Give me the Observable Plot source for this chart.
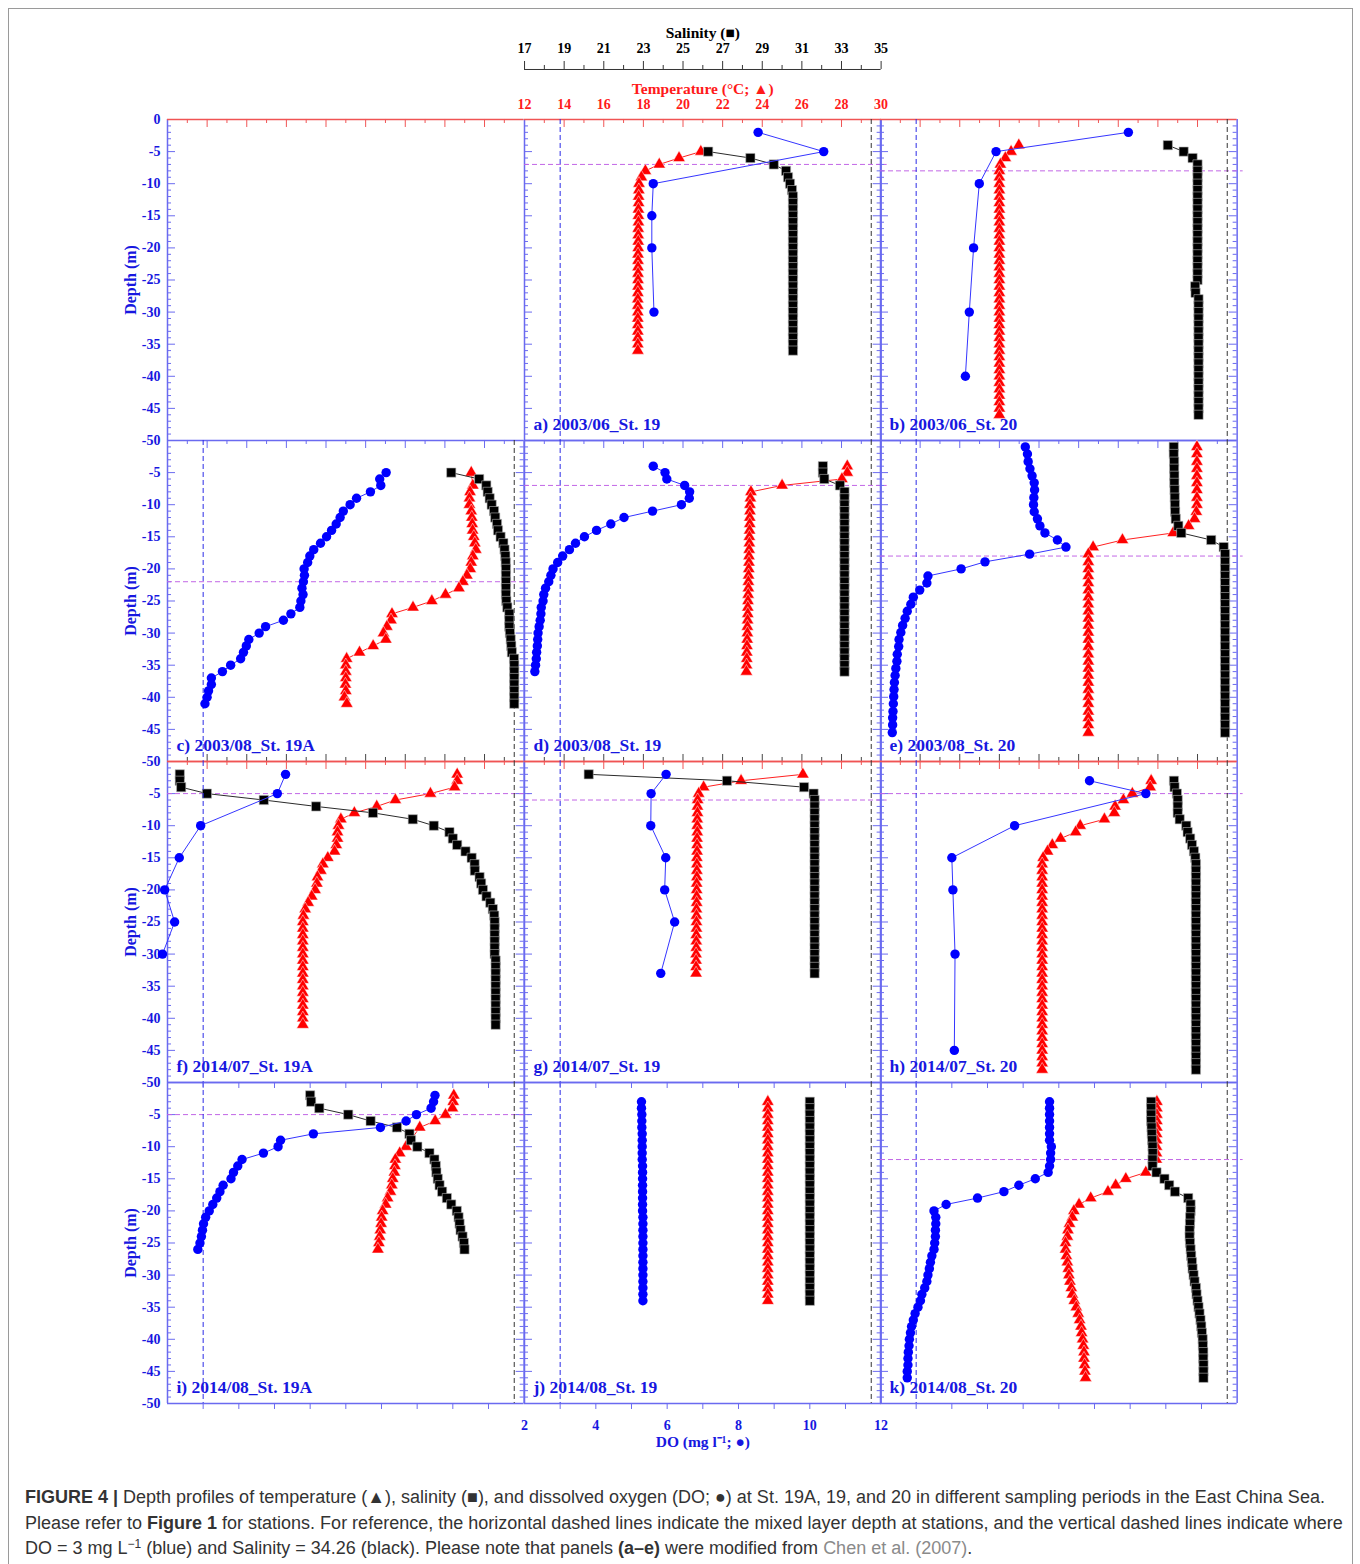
<!DOCTYPE html>
<html>
<head>
<meta charset="utf-8">
<script src="https://cdn.jsdelivr.net/npm/d3@7"></script>
<script src="https://cdn.jsdelivr.net/npm/@observablehq/plot@0.6"></script>
<style>
  html, body { margin: 0; padding: 0; background: #fff; }
  #fig { position: relative; width: 1360px; height: 1564px; overflow: hidden; }
  #frame { position: absolute; left: 8px; top: 8px; width: 1343px; height: 1570px; border: 1px solid #9a9a9a; }
  #caption { position: absolute; left: 25px; top: 1485px; font-family: "Liberation Sans", Arial, sans-serif; font-size: 18px; line-height: 25.7px; color: #333; white-space: nowrap; }
  #caption .ref { color: #8a8a8a; }
  #caption sup { font-size: 12px; line-height: 0; vertical-align: 6px; }
</style>
</head>
<body>
<div id="fig"><div id="frame"></div></div>
<script>
// ================= DATA =================
const panelNames = ["a) 2003/06_St. 19", "b) 2003/06_St. 20", "c) 2003/08_St. 19A", "d) 2003/08_St. 19", "e) 2003/08_St. 20",
  "f) 2014/07_St. 19A", "g) 2014/07_St. 19", "h) 2014/07_St. 20", "i) 2014/08_St. 19A", "j) 2014/08_St. 19", "k) 2014/08_St. 20"];
// mixed layer depth (m) per panel, null = none
const mixedLayerDepths = [-7, -8, -22, -7, -18, -5, -6, -5, -5, null, -12];

// reference lines
const doRefLine = 3;          // DO = 3 mg/L
const salinityRefLine = 34.5; // salinity reference (as drawn)

// tick labels
const depthTicks = [0, -5, -10, -15, -20, -25, -30, -35, -40, -45, -50];
const salinityTicks = [17, 19, 21, 23, 25, 27, 29, 31, 33, 35];
const temperatureTicks = [12, 14, 16, 18, 20, 22, 24, 26, 28, 30];
const doTicks = [2, 4, 6, 8, 10, 12];

// series: [depth (m), value]
const tempA = [[5,20.9],[6,19.8],[7,18.8],[8,18.1],[9,17.9],[10,17.78],[11,17.77],[12,17.76],[13,17.76],[14,17.75],[15,17.75],[16,17.75],[17,17.74],[18,17.74],[19,17.74],[20,17.74],[21,17.73],[22,17.73],[23,17.73],[24,17.73],[25,17.73],[26,17.73],[27,17.72],[28,17.72],[29,17.72],[30,17.72],[31,17.72],[32,17.72],[33,17.72],[34,17.72],[35,17.72],[36,17.72]];
const salA = [[5,26.27],[6,28.4],[7,29.58],[8,30.2],[9,30.3],[10,30.4],[11,30.5],[12,30.55],[13,30.55],[14,30.55],[15,30.55],[16,30.55],[17,30.55],[18,30.55],[19,30.55],[20,30.55],[21,30.55],[22,30.55],[23,30.55],[24,30.55],[25,30.55],[26,30.55],[27,30.55],[28,30.55],[29,30.55],[30,30.55],[31,30.55],[32,30.55],[33,30.55],[34,30.55],[35,30.55],[36,30.55]];
const doA = [[2,8.55],[5,10.39],[10,5.61],[15,5.57],[20,5.57],[30,5.63]];

const tempB = [[4,18.98],[5,18.59],[6,18.3],[7,18.05],[8,18],[9,18],[10,18],[11,18],[12,18],[13,18],[14,18],[15,18],[16,18],[17,18],[18,18],[19,18],[20,18],[21,18],[22,18],[23,18],[24,18],[25,18],[26,18],[27,18],[28,18],[29,18],[30,18],[31,18],[32,18],[33,18],[34,18],[35,18],[36,18],[37,18],[38,18],[39,18],[40,18],[41,18],[42,18],[43,18],[44,18],[45,18],[46,18]];
const salB = [[4,31.5],[5,32.3],[6,32.75],[7,33.0],[8,33.0],[9,33.0],[10,33.0],[11,33.0],[12,33.0],[13,33.0],[14,33.0],[15,33.0],[16,33.0],[17,33.0],[18,33.0],[19,33.0],[20,33.0],[21,33.0],[22,33.0],[23,33.0],[24,33.0],[25,33.0],[26,32.88],[27,32.9],[28,33.05],[29,33.05],[30,33.05],[31,33.05],[32,33.05],[33,33.05],[34,33.05],[35,33.05],[36,33.05],[37,33.05],[38,33.05],[39,33.05],[40,33.05],[41,33.05],[42,33.05],[43,33.05],[44,33.05],[45,33.05],[46,33.05]];
const doB = [[2,8.95],[5,5.24],[10,4.77],[20,4.61],[30,4.49],[40,4.38]];

const tempC = [[5,27.33],[7,27.41],[8,27.27],[9,27.24],[10,27.24],[11,27.33],[12,27.36],[13,27.38],[14,27.4],[15,27.46],[16,27.51],[17,27.56],[18,27.41],[19,27.33],[20,27.28],[21,27.11],[22,26.91],[23,26.71],[24,26.03],[25,25.34],[26,24.39],[27,23.33],[28,23.28],[29,23.07],[30,22.9],[31,23.02],[32,22.38],[33,21.69],[34,21.04],[35,21.0],[36,21.0],[37,21.0],[38,20.98],[39,21.0],[40,20.93],[41,21.05]];
const salC = [[5,31.32],[6,32.73],[7,33.09],[8,33.16],[9,33.26],[10,33.36],[11,33.48],[12,33.54],[13,33.63],[14,33.68],[15,33.81],[16,33.95],[17,34.01],[18,34.05],[19,34.07],[20,34.08],[21,34.08],[22,34.08],[23,34.08],[24,34.08],[25,34.1],[26,34.15],[27,34.25],[28,34.25],[29,34.25],[30,34.28],[31,34.32],[32,34.35],[33,34.38],[34,34.49],[35,34.5],[36,34.5],[37,34.5],[38,34.5],[39,34.5],[40,34.5],[41,34.5]];
const doC = [[5,8.13],[6,7.95],[7,7.98],[8,7.69],[9,7.3],[10,7.12],[11,6.93],[12,6.84],[13,6.73],[14,6.6],[15,6.46],[16,6.29],[17,6.1],[18,5.99],[19,5.93],[20,5.83],[21,5.84],[22,5.81],[23,5.77],[24,5.8],[25,5.74],[26,5.71],[27,5.46],[28,5.25],[29,4.75],[30,4.57],[31,4.28],[32,4.21],[33,4.13],[34,4.05],[35,3.77],[36,3.54],[37,3.23],[38,3.23],[39,3.15],[40,3.11],[41,3.05]];

const tempD = [[4,28.29],[5,28.29],[6,28.02],[7,25.0],[8,23.43],[9,23.4],[10,23.38],[11,23.38],[12,23.37],[13,23.37],[14,23.36],[15,23.35],[16,23.35],[17,23.34],[18,23.33],[19,23.33],[20,23.32],[21,23.31],[22,23.3],[23,23.3],[24,23.29],[25,23.28],[26,23.27],[27,23.27],[28,23.26],[29,23.25],[30,23.25],[31,23.24],[32,23.23],[33,23.22],[34,23.22],[35,23.21],[36,23.2]];
const salD = [[4,32.06],[5,32.06],[6,32.13],[7,32.92],[8,33.15],[9,33.15],[10,33.15],[11,33.15],[12,33.15],[13,33.15],[14,33.15],[15,33.15],[16,33.15],[17,33.15],[18,33.15],[19,33.15],[20,33.15],[21,33.15],[22,33.15],[23,33.15],[24,33.15],[25,33.15],[26,33.15],[27,33.15],[28,33.15],[29,33.15],[30,33.15],[31,33.15],[32,33.15],[33,33.15],[34,33.15],[35,33.15],[36,33.15]];
const doD = [[4,5.61],[5,5.94],[6,5.99],[7,6.49],[8,6.63],[9,6.62],[10,6.4],[11,5.59],[12,4.79],[13,4.42],[14,4.02],[15,3.68],[16,3.43],[17,3.26],[18,3.07],[19,2.93],[20,2.8],[21,2.74],[22,2.68],[23,2.59],[24,2.54],[25,2.52],[26,2.47],[27,2.46],[28,2.44],[29,2.41],[30,2.38],[31,2.37],[32,2.36],[33,2.34],[34,2.33],[35,2.31],[36,2.29]];

// panel e: shared sampling depths
const depthE = [1.0,2.1,3.3,4.4,5.5,6.6,7.7,8.9,10.0,11.1,12.2,13.3,14.4,15.5,16.6,17.7,18.9,20.0,21.1,22.2,23.3,24.4,25.5,26.6,27.7,28.8,29.9,31.0,32.1,33.3,34.4,35.5,36.6,37.7,38.8,39.9,41.0,42.2,43.2,44.3,45.5];
const tempE = [27.97,27.97,27.97,27.97,27.97,27.97,27.97,27.97,27.97,27.94,27.85,27.55,26.77,24.21,22.73,22.49,22.49,22.49,22.49,22.49,22.49,22.49,22.49,22.49,22.49,22.49,22.49,22.49,22.49,22.49,22.49,22.49,22.49,22.49,22.49,22.49,22.49,22.49,22.49,22.49,22.49];
const salE = [31.8,31.8,31.82,31.82,31.83,31.83,31.84,31.85,31.86,31.87,31.9,32.03,32.18,33.69,34.32,34.39,34.39,34.39,34.39,34.39,34.39,34.39,34.39,34.39,34.39,34.39,34.39,34.39,34.39,34.39,34.39,34.39,34.39,34.39,34.39,34.39,34.39,34.39,34.39,34.39,34.39];
const doE = [6.06,6.12,6.14,6.19,6.25,6.31,6.32,6.3,6.29,6.31,6.4,6.47,6.61,6.96,7.2,6.18,4.93,4.26,3.33,3.3,3.1,2.92,2.85,2.75,2.69,2.62,2.57,2.52,2.51,2.47,2.46,2.43,2.41,2.39,2.38,2.37,2.36,2.35,2.34,2.34,2.33];

const tempF = [[2,26.62],[3,26.62],[4,26.49],[5,25.27],[6,23.5],[7,22.56],[8,21.43],[9,20.75],[10,20.63],[11,20.58],[12,20.58],[13,20.52],[14,20.43],[15,20.09],[16,19.84],[17,19.74],[18,19.57],[19,19.54],[20,19.45],[21,19.28],[22,19.1],[23,18.95],[24,18.86],[25,18.83],[26,18.83],[27,18.83],[28,18.83],[29,18.83],[30,18.83],[31,18.83],[32,18.83],[33,18.83],[34,18.83],[35,18.83],[36,18.83],[37,18.83],[38,18.83],[39,18.83],[40,18.83],[41,18.83]];
const salF = [[2,17.62],[3,17.62],[4,17.69],[5,18.99],[6,21.86],[7,24.5],[8,27.37],[9,29.38],[10,30.44],[11,31.23],[12,31.4],[13,31.62],[14,32.04],[15,32.35],[16,32.5],[17,32.51],[18,32.75],[19,32.83],[20,32.92],[21,33.1],[22,33.29],[23,33.42],[24,33.49],[25,33.51],[26,33.51],[27,33.51],[28,33.51],[29,33.51],[30,33.51],[31,33.56],[32,33.56],[33,33.56],[34,33.56],[35,33.56],[36,33.56],[37,33.56],[38,33.56],[39,33.56],[40,33.56],[41,33.56]];
const doF = [[2,5.31],[5,5.08],[10,2.93],[15,2.33],[20,1.92],[25,2.2],[30,1.86]];

const tempG = [[2,26.05],[3,22.93],[4,21.04],[5,20.79],[6,20.74],[7,20.73],[8,20.73],[9,20.72],[10,20.72],[11,20.72],[12,20.71],[13,20.71],[14,20.71],[15,20.7],[16,20.7],[17,20.7],[18,20.7],[19,20.69],[20,20.69],[21,20.69],[22,20.69],[23,20.68],[24,20.68],[25,20.68],[26,20.68],[27,20.67],[28,20.67],[29,20.67],[30,20.66],[31,20.66],[32,20.66],[33,20.66]];
const salG = [[2,20.24],[3,27.22],[4,31.11],[5,31.59],[6,31.64],[7,31.64],[8,31.64],[9,31.64],[10,31.64],[11,31.64],[12,31.64],[13,31.64],[14,31.64],[15,31.64],[16,31.64],[17,31.64],[18,31.64],[19,31.64],[20,31.64],[21,31.64],[22,31.64],[23,31.64],[24,31.64],[25,31.64],[26,31.64],[27,31.64],[28,31.64],[29,31.64],[30,31.64],[31,31.64],[32,31.64],[33,31.64]];
const doG = [[2,5.97],[5,5.55],[10,5.54],[15,5.96],[20,5.93],[25,6.21],[33,5.82]];

const tempH = [[3,25.66],[4,25.61],[5,24.71],[6,24.26],[7,23.84],[8,23.8],[9,23.3],[10,22.08],[11,21.85],[12,21.09],[13,20.67],[14,20.43],[15,20.21],[16,20.16],[17,20.16],[18,20.16],[19,20.16],[20,20.16],[21,20.16],[22,20.16],[23,20.16],[24,20.16],[25,20.16],[26,20.16],[27,20.16],[28,20.16],[29,20.16],[30,20.16],[31,20.16],[32,20.16],[33,20.16],[34,20.16],[35,20.16],[36,20.16],[37,20.16],[38,20.16],[39,20.16],[40,20.16],[41,20.16],[42,20.16],[43,20.16],[44,20.16],[45,20.16],[46,20.16],[47,20.16],[48,20.16]];
const salH = [[3,31.81],[4,31.84],[5,31.96],[6,32.0],[7,32.0],[8,32.0],[9,32.1],[10,32.43],[11,32.5],[12,32.63],[13,32.72],[14,32.82],[15,32.89],[16,32.92],[17,32.92],[18,32.92],[19,32.92],[20,32.92],[21,32.92],[22,32.92],[23,32.92],[24,32.92],[25,32.92],[26,32.92],[27,32.92],[28,32.92],[29,32.92],[30,32.92],[31,32.92],[32,32.92],[33,32.92],[34,32.92],[35,32.92],[36,32.92],[37,32.92],[38,32.92],[39,32.92],[40,32.92],[41,32.92],[42,32.92],[43,32.92],[44,32.92],[45,32.92],[46,32.92],[47,32.92],[48,32.92]];
const doH = [[3,7.86],[5,9.44],[10,5.76],[15,4.0],[20,4.03],[30,4.09],[45,4.07]];

const tempI = [[2,26.45],[3,26.42],[4,26.38],[5,26.03],[6,25.51],[7,24.73],[10,24.04],[11,23.72],[12,23.5],[13,23.48],[14,23.45],[15,23.37],[16,23.32],[17,23.25],[18,23.11],[19,23.01],[20,22.86],[21,22.81],[22,22.78],[23,22.74],[24,22.71],[25,22.67],[26,22.62]];
const salI = [[2,24.2],[3,24.25],[4,24.66],[5,26.12],[6,27.25],[7,28.58],[8,29.21],[9,29.29],[10,29.61],[11,30.22],[12,30.47],[13,30.54],[14,30.57],[15,30.64],[16,30.73],[17,30.86],[18,31.1],[19,31.32],[20,31.6],[21,31.69],[22,31.74],[23,31.79],[24,31.89],[25,31.96],[26,31.99]];
const doI = [[2,9.5],[3,9.46],[4,9.39],[5,8.98],[6,8.69],[7,7.97],[8,6.09],[9,5.17],[10,5.1],[11,4.69],[12,4.09],[13,3.97],[14,3.85],[15,3.78],[16,3.56],[17,3.47],[18,3.38],[19,3.27],[20,3.17],[21,3.07],[22,3.01],[23,2.98],[24,2.95],[25,2.91],[26,2.85]];

const tempJ = [[3,24.28],[4,24.28],[5,24.28],[6,24.28],[7,24.28],[8,24.28],[9,24.28],[10,24.28],[11,24.28],[12,24.28],[13,24.28],[14,24.28],[15,24.28],[16,24.28],[17,24.28],[18,24.28],[19,24.28],[20,24.28],[21,24.28],[22,24.28],[23,24.28],[24,24.28],[25,24.28],[26,24.28],[27,24.28],[28,24.28],[29,24.28],[30,24.28],[31,24.28],[32,24.28],[33,24.28],[34,24.28]];
const salJ = [[3,31.4],[4,31.4],[5,31.4],[6,31.4],[7,31.4],[8,31.4],[9,31.4],[10,31.4],[11,31.4],[12,31.4],[13,31.4],[14,31.4],[15,31.4],[16,31.4],[17,31.4],[18,31.4],[19,31.4],[20,31.4],[21,31.4],[22,31.4],[23,31.4],[24,31.4],[25,31.4],[26,31.4],[27,31.4],[28,31.4],[29,31.4],[30,31.4],[31,31.4],[32,31.4],[33,31.4],[34,31.4]];
const doJ = [[3,5.28],[4,5.28],[5,5.29],[6,5.29],[7,5.29],[8,5.3],[9,5.3],[10,5.3],[11,5.3],[12,5.3],[13,5.31],[14,5.31],[15,5.31],[16,5.31],[17,5.31],[18,5.31],[19,5.31],[20,5.31],[21,5.32],[22,5.32],[23,5.32],[24,5.32],[25,5.32],[26,5.32],[27,5.32],[28,5.32],[29,5.32],[30,5.32],[31,5.32],[32,5.32],[33,5.32],[34,5.32]];

const tempK = [[3,25.95],[4,25.95],[5,25.95],[6,25.95],[7,25.95],[8,25.94],[9,25.94],[10,25.93],[11,25.93],[12,25.92],[14,25.39],[15,24.38],[16,23.87],[17,23.48],[18,22.61],[19,22.02],[20,21.76],[21,21.68],[22,21.54],[23,21.46],[24,21.43],[25,21.34],[26,21.34],[27,21.38],[28,21.43],[29,21.48],[30,21.51],[31,21.56],[32,21.63],[33,21.68],[34,21.78],[35,21.88],[36,21.98],[37,22.05],[38,22.12],[39,22.15],[40,22.2],[41,22.24],[42,22.27],[43,22.27],[44,22.3],[45,22.32],[46,22.35]];
const salK = [[3,30.66],[4,30.66],[5,30.66],[6,30.66],[7,30.68],[8,30.69],[9,30.71],[10,30.73],[11,30.74],[12,30.73],[13,30.73],[14,30.93],[15,31.33],[16,31.57],[17,31.86],[18,32.53],[19,32.65],[20,32.65],[21,32.63],[22,32.62],[23,32.6],[24,32.6],[25,32.62],[26,32.65],[27,32.68],[28,32.72],[29,32.75],[30,32.8],[31,32.85],[32,32.92],[33,32.95],[34,33.0],[35,33.05],[36,33.1],[37,33.15],[38,33.19],[39,33.22],[40,33.26],[41,33.27],[42,33.29],[43,33.29],[44,33.3],[45,33.3],[46,33.3]];
const doK = [[3,6.74],[4,6.74],[5,6.74],[6,6.74],[7,6.74],[8,6.74],[9,6.74],[10,6.79],[11,6.77],[12,6.77],[13,6.74],[14,6.7],[15,6.34],[16,5.88],[17,5.46],[18,4.72],[19,3.84],[20,3.5],[21,3.55],[22,3.55],[23,3.54],[24,3.54],[25,3.52],[26,3.5],[27,3.44],[28,3.4],[29,3.37],[30,3.33],[31,3.3],[32,3.24],[33,3.16],[34,3.12],[35,3.05],[36,2.97],[37,2.92],[38,2.87],[39,2.84],[40,2.81],[41,2.8],[42,2.78],[43,2.77],[44,2.77],[45,2.75],[46,2.75]];

// ================= BUILD =================
const zipE = vals => depthE.map((d, i) => [d, vals[i]]);
const tempSeries = [tempA, tempB, tempC, tempD, zipE(tempE), tempF, tempG, tempH, tempI, tempJ, tempK];
const salSeries  = [salA, salB, salC, salD, zipE(salE), salF, salG, salH, salI, salJ, salK];
const doSeries   = [doA, doB, doC, doD, zipE(doE), doF, doG, doH, doI, doJ, doK];

// layout
const slots = [[0,1],[0,2],[1,0],[1,1],[1,2],[2,0],[2,1],[2,2],[3,0],[3,1],[3,2]];
const X0 = 167, Y0 = 119;
const PW = (1237 - 167) / 3, PH = (1403 - 119) / 4, M = 16;
const tempDom = [12, 30], salDom = [17, 35], doDom = [2, 12], depthDom = [-50, 0];

const COL = {
  text: "#1717e0", border: "#6a6af0", blue: "#0000ff", blueLine: "#3434ff",
  red: "#ff0000", redLine: "#ff2020", redBorder: "#f05454",
  black: "#000000", blackLine: "#2a2a2a", purple: "#c266e6",
  dashBlue: "#2a2ae6", dashBlack: "#333333"
};
const SERIF = "Liberation Serif, Times New Roman, serif";
const rowTopColor = [COL.redBorder, COL.border, COL.redBorder, COL.border];
const rowBottomColor = [COL.border, COL.redBorder, COL.border, COL.border];
const rowTopTick = [COL.redBorder, COL.border, COL.redBorder, null];

const depthMajor = depthTicks.filter(d => d !== 0 && d !== -50);
const depthMinor = d3.range(-49, 0).filter(d => d % 5 !== 0);
const tempTickMajor = d3.range(14, 30, 2);
const tempTickMinor = d3.range(13, 30, 2);
const doTickInner = d3.range(3, 12);

const fig = document.getElementById("fig");
function place(svg, left, top) {
  svg.style.position = "absolute";
  svg.style.left = left + "px";
  svg.style.top = top + "px";
  fig.appendChild(svg);
}
function layer(xDomain, marks) {
  return Plot.plot({
    width: PW + 2 * M, height: PH + 2 * M,
    marginLeft: M, marginRight: M, marginTop: M, marginBottom: M,
    x: {domain: xDomain, axis: null},
    y: {domain: depthDom, axis: null},
    style: {background: "transparent", overflow: "visible", fontFamily: SERIF},
    marks
  });
}
const X = d => d[1], Y = d => -d[0];

function baseMarks(r, c, i) {
  const has = i != null;
  const m = [];
  // left ticks (pointing right)
  m.push(Plot.tickY(depthMinor, {y: d => d, stroke: COL.border, insetRight: PW - 4}));
  m.push(Plot.tickY(depthMajor, {y: d => d, stroke: COL.border, insetRight: PW - 8}));
  if (has) {
    m.push(Plot.tickY(depthMinor, {y: d => d, stroke: COL.border, insetLeft: PW - 4}));
    m.push(Plot.tickY(depthMajor, {y: d => d, stroke: COL.border, insetLeft: PW - 8}));
  }
  // top ticks (temperature spacing)
  if (rowTopTick[r]) {
    m.push(Plot.tickX(tempTickMinor, {x: d => d, stroke: rowTopTick[r], insetBottom: PH - 4}));
    m.push(Plot.tickX(tempTickMajor, {x: d => d, stroke: rowTopTick[r], insetBottom: PH - 8}));
  }
  if (has && r === 1) {
    m.push(Plot.tickX(tempTickMinor, {x: d => d, stroke: "#444", insetTop: PH - 4}));
    m.push(Plot.tickX(tempTickMajor, {x: d => d, stroke: "#444", insetTop: PH - 7}));
  }
  // borders
  m.push(Plot.ruleX([tempDom[0]], {stroke: COL.border, strokeWidth: 1.5}));
  if (has) m.push(Plot.ruleX([tempDom[1]], {stroke: COL.border, strokeWidth: 1.5}));
  m.push(Plot.ruleY([depthDom[1]], {stroke: rowTopColor[r], strokeWidth: 1.5}));
  if (has) m.push(Plot.ruleY([depthDom[0]], {stroke: rowBottomColor[r], strokeWidth: 1.5}));
  // depth axis labels on first column
  if (c === 0) {
    const labels = r === 0 ? depthTicks : depthTicks.filter(d => d !== 0);
    m.push(Plot.text(labels, {y: d => d, text: d => String(d), frameAnchor: "left", dx: -7, textAnchor: "end",
      lineAnchor: "middle", fill: COL.text, fontSize: 14, fontWeight: "bold"}));
    m.push(Plot.text(["Depth (m)"], {frameAnchor: "left", dx: -37, rotate: -90, textAnchor: "middle", lineAnchor: "middle",
      fill: COL.text, fontSize: 16, fontWeight: "bold"}));
  }
  if (has) {
    if (mixedLayerDepths[i] != null) {
      m.push(Plot.ruleY([mixedLayerDepths[i]], {stroke: COL.purple, strokeDasharray: "5,3", strokeWidth: 1, insetRight: -6}));
    }
    m.push(Plot.line(tempSeries[i], {x: X, y: Y, stroke: COL.redLine, strokeWidth: 1}));
    m.push(Plot.dot(tempSeries[i], {x: X, y: Y, symbol: "triangle", r: 4.6, fill: COL.red, stroke: "#ffffff", strokeWidth: 0.5}));
    m.push(Plot.text([panelNames[i]], {frameAnchor: "bottom-left", dx: 9, dy: -10, lineAnchor: "bottom", textAnchor: "start",
      fill: COL.text, fontSize: 17.5, fontWeight: "bold"}));
  }
  return m;
}

function salMarks(i) {
  return [
    Plot.ruleX([salinityRefLine], {stroke: COL.dashBlack, strokeDasharray: "5,3", strokeWidth: 1}),
    Plot.line(salSeries[i], {x: X, y: Y, stroke: COL.blackLine, strokeWidth: 1}),
    Plot.dot(salSeries[i], {x: X, y: Y, symbol: "square", r: 5.2, fill: COL.black, stroke: "#b5b5b5", strokeWidth: 0.6})
  ];
}

function doMarks(r, i) {
  const m = [Plot.ruleX([doRefLine], {stroke: COL.dashBlue, strokeDasharray: "5,3", strokeWidth: 1})];
  if (r === 3) {
    m.push(Plot.tickX(doTickInner, {x: d => d, stroke: COL.border, insetBottom: PH - 6}));
    m.push(Plot.tickX(doTickInner, {x: d => d, stroke: COL.border, insetTop: PH, insetBottom: -6}));
  }
  m.push(Plot.line(doSeries[i], {x: X, y: Y, stroke: COL.blueLine, strokeWidth: 1}));
  m.push(Plot.dot(doSeries[i], {x: X, y: Y, r: 4.7, fill: COL.blue}));
  return m;
}

// empty slot (row 0, col 0): axis only
place(layer(tempDom, baseMarks(0, 0, null)), X0 - M, Y0 - M);

panelNames.forEach((name, i) => {
  const [r, c] = slots[i];
  const left = X0 + c * PW - M, top = Y0 + r * PH - M;
  place(layer(tempDom, baseMarks(r, c, i)), left, top);
  place(layer(salDom, salMarks(i)), left, top);
  place(layer(doDom, doMarks(r, i)), left, top);
});

// ----- top salinity axis (above middle column) -----
{
  const H = 56;
  const svg = Plot.plot({
    width: PW + 2 * M, height: H, marginLeft: M, marginRight: M, marginTop: 0, marginBottom: 1,
    x: {domain: salDom, axis: null}, y: {domain: [0, 1], axis: null},
    style: {background: "transparent", overflow: "visible", fontFamily: SERIF},
    marks: [
      Plot.ruleY([0], {stroke: "#333", strokeWidth: 1}),
      Plot.tickX(d3.range(18, 35, 2), {x: d => d, stroke: "#333", insetTop: H - 1 - 4}),
      Plot.tickX(salinityTicks, {x: d => d, stroke: "#333", insetTop: H - 1 - 8}),
      Plot.text(salinityTicks, {x: d => d, text: d => String(d), frameAnchor: "top", dy: 34, lineAnchor: "middle",
        fill: "#000", fontSize: 14, fontWeight: "bold"}),
      Plot.text(["Salinity (■)"], {frameAnchor: "top", dy: 19, lineAnchor: "middle", fill: "#000", fontSize: 15.5, fontWeight: "bold"})
    ]
  });
  place(svg, X0 + PW - M, 14);
}
// ----- temperature labels -----
{
  const svg = Plot.plot({
    width: PW + 2 * M, height: 36, marginLeft: M, marginRight: M, marginTop: 0, marginBottom: 0,
    x: {domain: tempDom, axis: null},
    style: {background: "transparent", overflow: "visible", fontFamily: SERIF},
    marks: [
      Plot.text(temperatureTicks, {x: d => d, text: d => String(d), frameAnchor: "top", dy: 24, lineAnchor: "middle",
        fill: "#ff1a1a", fontSize: 14, fontWeight: "bold"}),
      Plot.text(["Temperature (°C; ▲)"], {frameAnchor: "top", dy: 9, lineAnchor: "middle", fill: "#ff1a1a", fontSize: 15.5, fontWeight: "bold"})
    ]
  });
  place(svg, X0 + PW - M, 80);
}
// ----- DO labels (below middle column) -----
{
  const svg = Plot.plot({
    width: PW + 2 * M, height: 44, marginLeft: M, marginRight: M, marginTop: 0, marginBottom: 0,
    x: {domain: doDom, axis: null},
    style: {background: "transparent", overflow: "visible", fontFamily: SERIF},
    marks: [
      Plot.text(doTicks, {x: d => d, text: d => String(d), frameAnchor: "top", dy: 11, lineAnchor: "middle",
        fill: COL.text, fontSize: 14, fontWeight: "bold"}),
      Plot.text(["DO (mg l⁻¹; ●)"], {frameAnchor: "top", dy: 28, lineAnchor: "middle", fill: COL.text, fontSize: 15.5, fontWeight: "bold"})
    ]
  });
  place(svg, X0 + PW - M, 1414);
}

// ----- caption -----
const cap = document.createElement("div");
cap.id = "caption";
cap.innerHTML = '<b>FIGURE 4 |</b> Depth profiles of temperature (▲), salinity (■), and dissolved oxygen (DO; ●) at St. 19A, 19, and 20 in different sampling periods in the East China Sea.<br>' +
  'Please refer to <b>Figure 1</b> for stations. For reference, the horizontal dashed lines indicate the mixed layer depth at stations, and the vertical dashed lines indicate where<br>' +
  'DO = 3 mg L<sup>−1</sup> (blue) and Salinity = 34.26 (black). Please note that panels <b>(a–e)</b> were modified from <span class="ref">Chen et al. (2007)</span>.';
fig.appendChild(cap);
</script>
</body>
</html>
